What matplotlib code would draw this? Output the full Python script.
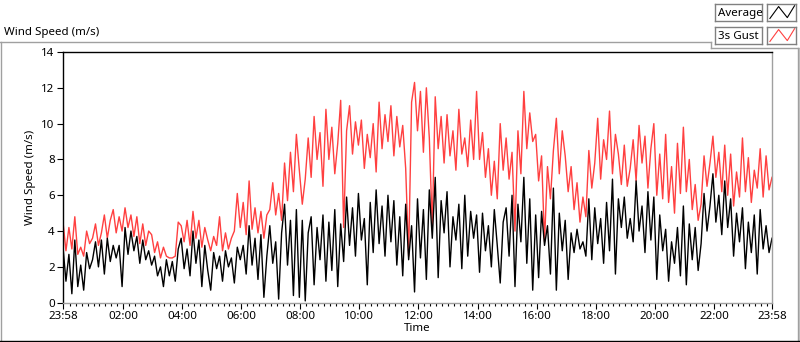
import matplotlib.pyplot as plt
import numpy as np
from matplotlib.lines import Line2D

plt.rcParams['font.family'] = ['Noto Sans', 'DejaVu Sans']
plt.rcParams['font.size'] = 8

# wind speed, one sample every 6 minutes from 23:58 (m/s)
avg_speed = [
    3.1, 1.2, 2.7, 0.5, 3.5, 0.9, 2.1, 0.7, 2.8, 1.9,   # 23:58
    2.4, 3.4, 2.0, 3.5, 1.6, 3.6, 2.3, 3.2, 2.5, 3.2,
    0.9, 4.2, 2.7, 4.0, 2.9, 3.7, 2.2, 3.5, 2.4, 2.9,
    2.1, 2.6, 1.5, 2.0, 0.9, 2.4, 1.5, 2.3, 1.2, 3.0,
    3.6, 1.9, 3.0, 1.5, 4.0, 2.2, 3.5, 0.9, 3.2, 1.8,
    0.7, 2.8, 1.9, 2.6, 1.2, 2.9, 2.0, 2.5, 1.1, 3.1,
    2.4, 3.2, 1.6, 4.3, 2.1, 3.6, 1.3, 3.8, 0.3, 2.6,
    4.3, 2.2, 3.4, 0.2, 3.9, 5.5, 2.1, 4.6, 0.4, 5.2,
    0.3, 4.6, 0.1, 3.9, 4.8, 1.0, 4.2, 2.4, 4.9, 1.2,
    4.5, 1.8, 5.2, 0.9, 4.4, 2.3, 5.9, 3.2, 5.3, 2.6,
    6.1, 3.5, 4.7, 1.0, 5.6, 2.8, 6.3, 3.3, 5.4, 2.6,
    6.0, 3.4, 5.7, 2.1, 4.8, 1.5, 5.5, 2.4, 4.3, 0.6,
    5.8, 2.5, 5.2, 1.3, 6.3, 3.6, 7.0, 1.4, 5.7, 3.9,
    6.2, 2.0, 4.8, 3.5, 5.5, 1.9, 6.0, 2.6, 5.1, 3.6,
    4.9, 1.7, 5.0, 2.9, 4.3, 2.0, 5.2, 3.2, 1.1, 4.5,
    5.3, 2.6, 6.0, 0.9, 5.5, 3.4, 7.0, 2.2, 5.8, 0.7,
    4.9, 1.4, 5.1, 3.2, 4.3, 1.6, 6.4, 0.7, 5.0, 2.9,
    4.6, 1.3, 3.9, 2.8, 4.1, 3.0, 3.4, 2.6, 5.8, 2.4,
    5.3, 3.3, 4.7, 2.2, 5.6, 2.9, 6.9, 1.6, 5.8, 4.2,
    5.9, 3.6, 4.7, 3.4, 6.8, 4.0, 5.4, 2.8, 6.2, 3.5,
    5.9, 1.3, 4.9, 2.9, 4.1, 1.2, 3.4, 2.2, 4.2, 1.5,
    5.4, 1.0, 4.4, 2.4, 4.2, 1.8, 3.3, 6.1, 4.0, 5.4,
    7.2, 4.5, 6.0, 3.8, 6.8, 4.2, 5.8, 2.6, 5.0, 3.4,
    5.3, 1.9, 4.5, 2.8, 4.9, 1.6, 5.2, 3.0, 4.3, 2.8,
    3.6,
]
gust_speed = [
    4.5, 2.9, 4.2, 3.0, 4.8, 2.7, 3.1, 2.6, 4.0, 3.3,   # 23:58
    3.6, 4.4, 3.2, 3.9, 4.9, 3.6, 4.6, 5.2, 3.9, 4.8,
    4.0, 5.3, 4.2, 4.9, 3.7, 4.8, 3.3, 4.4, 3.2, 4.0,
    3.8, 2.8, 3.4, 2.5, 3.1, 2.6, 2.5, 2.5, 2.6, 4.5,
    4.3, 3.4, 4.6, 3.2, 5.1, 3.6, 4.6, 3.1, 4.2, 3.5,
    2.9, 3.7, 3.2, 4.8, 2.9, 3.9, 3.0, 3.6, 4.0, 6.1,
    4.2, 5.6, 3.8, 6.8, 4.1, 5.3, 3.9, 5.1, 3.6, 4.9,
    5.2, 6.7, 4.9, 6.1, 4.6, 7.8, 5.7, 8.4, 6.2, 9.4,
    7.4, 5.5, 6.9, 9.2, 7.0, 10.4, 8.0, 9.5, 6.5, 10.8,
    8.0, 9.8, 7.2, 8.9, 11.3, 4.2, 9.6, 11.0, 8.3, 10.1,
    8.8, 10.2, 7.5, 9.4, 8.1, 10.0, 7.3, 11.2, 8.6, 10.5,
    9.0, 11.0, 8.2, 10.4, 8.7, 9.9, 7.5, 2.6, 11.2, 12.3,
    9.6, 11.8, 8.4, 12.0, 9.2, 4.2, 11.5, 8.6, 10.4, 7.8,
    10.5, 8.2, 9.6, 7.4, 10.8, 8.3, 9.2, 7.6, 10.2, 8.0,
    11.8, 8.0, 9.5, 7.0, 8.6, 6.0, 7.9, 5.8, 10.0, 7.4,
    9.2, 6.9, 8.4, 4.0, 9.6, 7.2, 11.8, 8.6, 10.6, 9.0,
    9.4, 6.8, 8.2, 3.4, 7.6, 5.8, 8.5, 10.3, 7.2, 9.6,
    8.2, 6.2, 7.6, 5.2, 6.7, 4.5, 5.9, 4.8, 8.5, 6.4,
    7.8, 10.3, 6.9, 9.1, 8.0, 10.7, 7.2, 9.4, 8.3, 6.6,
    8.8, 6.5, 7.5, 9.1, 6.8, 9.9, 7.8, 9.3, 6.4, 8.6,
    10.0, 6.0, 8.3, 5.8, 9.4, 5.6, 7.6, 5.0, 8.9, 6.1,
    9.8, 6.2, 8.0, 5.2, 6.6, 4.6, 5.5, 8.2, 6.5, 7.8,
    9.3, 7.0, 8.4, 6.2, 8.8, 6.0, 8.3, 5.4, 7.3, 5.9,
    9.2, 6.2, 8.1, 5.6, 7.4, 6.4, 8.6, 5.9, 8.2, 6.3,
    7.0,
]
time_labels = ["23:58", "02:00", "04:00", "06:00", "08:00", "10:00", "12:00",
               "14:00", "16:00", "18:00", "20:00", "22:00", "23:58"]
series_names = ["Average", "3s Gust"]
series_colors = ["black", "#ff4040"]

step_h = 0.1   # 6 minutes
t = np.arange(len(avg_speed)) * step_h

# hours since the 23:58 start for every tick label
tick_pos = []
for i, lab in enumerate(time_labels):
    hh, mm = map(int, lab.split(":"))
    h = (hh + mm / 60 - (23 + 58 / 60)) % 24
    if i == len(time_labels) - 1:
        h = 24
    tick_pos.append(h)

W, H = 800, 342
fig = plt.figure(figsize=(W / 100, H / 100), dpi=100)
ax = fig.add_axes([63 / W, 1 - 302.7 / H, (772 - 63) / W, (302.7 - 52) / H])

ax.plot(t, gust_speed, color=series_colors[1], lw=1.0)
ax.plot(t, avg_speed, color=series_colors[0], lw=1.0)

ax.set_xlim(0, 24)
ax.set_ylim(0, 14)
ax.set_yticks(range(0, 15, 2))
ax.set_xticks(tick_pos)
ax.set_xticklabels(time_labels)
minor = [m for m in np.arange(2 / 60, 24, 0.2) if min(abs(m - p) for p in tick_pos) > 0.05]
ax.set_xticks(minor, minor=True)
ax.tick_params(axis='both', which='major', direction='out', length=4, width=0.8,
               color='black', labelsize=8.3, pad=2)
ax.tick_params(axis='x', which='minor', direction='out', length=2.5, width=0.8, color='black')

ax.spines['left'].set_color('black')
ax.spines['top'].set_color('black')
ax.spines['right'].set_color('#a0a0a0')
ax.spines['bottom'].set_color('#a0a0a0')
for s in ax.spines.values():
    s.set_linewidth(1)

ax.set_xlabel("Time", labelpad=1, fontsize=8.3)
ax.set_ylabel("Wind Speed (m/s)", labelpad=4, fontsize=8.3)

# panel caption and frame
fig.text(4 / W, 1 - 33 / H, "Wind Speed (m/s)", va='center', ha='left', fontsize=8.3)
frame = [([0, 711], [42, 42], '#a0a0a0'), ([711, 711], [42, 48], '#a0a0a0'),
         ([711, 798], [48, 48], '#a0a0a0'), ([798, 798], [48, 341], '#a0a0a0'),
         ([0.5, 0.5], [42, 341], '#a0a0a0'), ([0, 800], [341, 341], 'black'),
         ([799.5, 799.5], [48, 341], 'black')]
for xs, ys, c in frame:
    fig.add_artist(Line2D([x / W for x in xs], [1 - y / H for y in ys],
                          color=c, lw=1, transform=fig.transFigure))

# legend boxes
zig = ([0.1, 0.4, 0.7, 0.95], [0.15, 0.85, 0.2, 0.9])
for i, (name, col) in enumerate(zip(series_names, series_colors)):
    y0 = 4 + i * 23
    lab_ax = fig.add_axes([715 / W, 1 - (y0 + 17) / H, 47 / W, 17 / H])
    sym_ax = fig.add_axes([767 / W, 1 - (y0 + 17) / H, 29 / W, 17 / H])
    for a in (lab_ax, sym_ax):
        a.set_xticks([])
        a.set_yticks([])
        a.set_xlim(0, 1)
        a.set_ylim(0, 1)
        for s in a.spines.values():
            s.set_color('#808080')
            s.set_linewidth(1)
    lab_ax.text(0.06, 0.45, name, va='center', ha='left', fontsize=8.3)
    sym_ax.plot(zig[0], zig[1], color=col, lw=0.8)

fig.savefig("out.png", dpi=100)
